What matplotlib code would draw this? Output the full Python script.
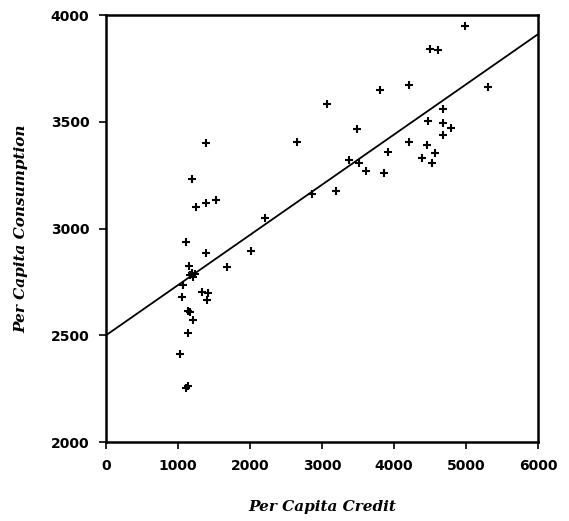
import matplotlib
matplotlib.use('Agg')
import matplotlib.pyplot as plt
import numpy as np

# per capita credit vs per capita consumption
credit = [4980, 4500, 4615, 3065, 3810, 4215, 5310, 2650, 3480, 4685,
          4470, 4680, 4790, 4680, 4205, 4465, 4565, 4390, 4525, 3915,
          3380, 3515, 3615, 3855, 3195, 2865, 2205, 2015,
          1385, 1200, 1245, 1385, 1530, 1115, 1390, 1680, 1155,
          1165, 1195, 1230, 1210, 1070, 1060, 1340, 1420, 1400,
          1145, 1160, 1215, 1140, 1030, 1115, 1140]
consumption = [3947, 3841, 3836, 3583, 3649, 3672, 3663, 3404, 3466, 3561,
               3505, 3493, 3471, 3436, 3407, 3391, 3355, 3330, 3305, 3357,
               3319, 3308, 3269, 3259, 3176, 3163, 3049, 2896,
               3399, 3233, 3101, 3118, 3133, 2937, 2887, 2821, 2823,
               2780, 2790, 2785, 2775, 2734, 2681, 2703, 2700, 2664,
               2615, 2609, 2571, 2511, 2411, 2255, 2262]

# fitted line
intercept = 2500
slope = 0.235
x_line = np.array([0, 6000])

fig = plt.figure(figsize=(5.69, 5.21), dpi=100)
ax = fig.add_axes([0.1863, 0.1516, 0.7592, 0.8196])

ax.scatter(credit, consumption, marker='+', s=30, color='black', linewidths=1.5, zorder=3)
ax.plot(x_line, intercept + slope * x_line, color='black', linewidth=1.3)

ax.set_xlim(0, 6000)
ax.set_ylim(2000, 4000)
ax.set_xticks(np.arange(0, 6001, 1000))
ax.set_yticks(np.arange(2000, 4001, 500))
for s in ax.spines.values():
    s.set_linewidth(1.8)
ax.tick_params(direction='out', length=5, width=1.2, labelsize=10, pad=7)
for lab in ax.get_xticklabels() + ax.get_yticklabels():
    lab.set_fontweight('bold')

ax.set_xlabel('Per Capita Credit', family='DejaVu Serif', style='italic',
              fontweight='bold', fontsize=11, labelpad=20)
ax.set_ylabel('Per Capita Consumption', family='DejaVu Serif', style='italic',
              fontweight='bold', fontsize=11, labelpad=16)

plt.savefig('out.png', dpi=100)
